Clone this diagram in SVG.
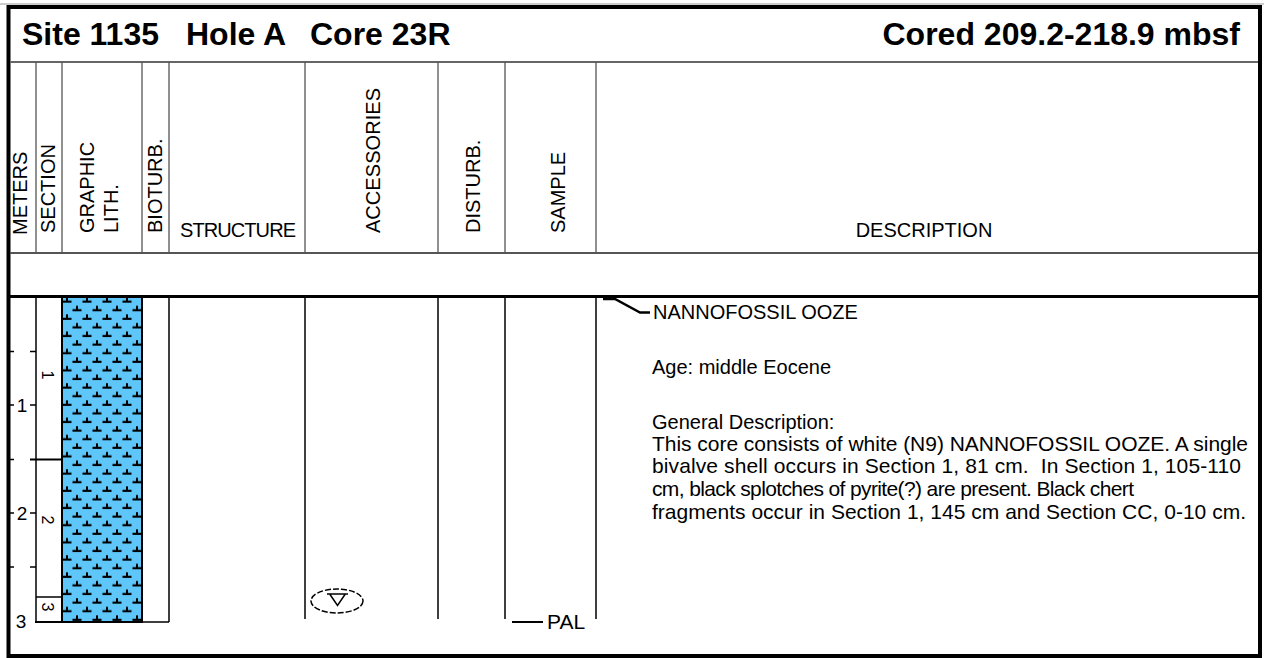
<svg xmlns="http://www.w3.org/2000/svg" width="1264" height="658" viewBox="0 0 1264 658">
<defs>
<style>
text{font-family:"Liberation Sans",Arial,sans-serif;fill:#000}
.title{font-size:32px;font-weight:bold}
.hdr{font-size:20px}
.desc{font-size:21px}
.desc2{font-size:20px}
.meter{font-size:19px}
.sec{font-size:16px}
.hline{stroke:#555;stroke-width:1.3;fill:none}
.bline{stroke:#000;stroke-width:1.5;fill:none}
.tick{stroke:#000;stroke-width:1.5}
</style>
<pattern id="nanno" x="62" y="296" width="20" height="17.2" patternUnits="userSpaceOnUse">
<rect width="20" height="17.2" fill="#5EC6F8"/>
<path d="M0.5,5.6H9.5M5,1.2V5.6M10.5,14.2H19.5M15,9.8V14.2" stroke="#000" stroke-width="2" fill="none"/>
</pattern>
</defs>
<rect width="1264" height="658" fill="#fff"/>
<line x1="0" y1="4" x2="1264" y2="4" stroke="#999" stroke-width="1"/>
<rect id="frame" x="8.5" y="7" width="1251.5" height="649" fill="none" stroke="#000" stroke-width="4"/>

<g id="title">
<text class="title" x="22" y="45">Site 1135</text>
<text class="title" x="186" y="45">Hole A</text>
<text class="title" x="310" y="45">Core 23R</text>
<text class="title" x="1240" y="45" text-anchor="end">Cored 209.2-218.9 mbsf</text>
</g>

<g id="grid">
<line x1="10" y1="62" x2="1258" y2="62" stroke="#666" stroke-width="2"/>
<line x1="10" y1="253" x2="1258" y2="253" stroke="#555" stroke-width="2.2"/>
<line x1="10" y1="296.5" x2="1258" y2="296.5" stroke="#000" stroke-width="3"/>
<path class="hline" d="M36,62V253M62,62V253M142,62V253M169,62V253M305,62V253M438,62V253M505,62V253M596,62V253"/>
</g>

<g id="headers">
<text class="hdr" transform="translate(27,235) rotate(-90)">METERS</text>
<text class="hdr" transform="translate(55,233) rotate(-90)">SECTION</text>
<text class="hdr" transform="translate(94,233) rotate(-90)">GRAPHIC</text>
<text class="hdr" transform="translate(118,233) rotate(-90)">LITH.</text>
<text class="hdr" transform="translate(162,233) rotate(-90)">BIOTURB.</text>
<text class="hdr" x="180" y="237" textLength="116">STRUCTURE</text>
<text class="hdr" transform="translate(380,233) rotate(-90)" textLength="145">ACCESSORIES</text>
<text class="hdr" transform="translate(480,233) rotate(-90)">DISTURB.</text>
<text class="hdr" transform="translate(565,233) rotate(-90)">SAMPLE</text>
<text class="hdr" x="924" y="237" text-anchor="middle">DESCRIPTION</text>
</g>

<g id="meters">
<path class="tick" d="M10,351.5H14M30,351.5H36M10,405H14M30,405H36M10,513H14M30,513H36M10,567H14M30,567H36M10,459.5H14"/>
<text class="meter" x="22" y="412" text-anchor="middle">1</text>
<text class="meter" x="22" y="520" text-anchor="middle">2</text>
<text class="meter" x="21" y="628" text-anchor="middle">3</text>
</g>

<g id="section">
<line x1="36" y1="297" x2="36" y2="622" class="bline"/>
<line x1="30" y1="459.5" x2="62" y2="459.5" stroke="#000" stroke-width="2"/>
<line x1="36" y1="597" x2="62" y2="597" stroke="#000" stroke-width="1.5"/>
<line x1="35" y1="622" x2="63" y2="622" stroke="#000" stroke-width="2"/>
<text class="sec" transform="translate(42,375) rotate(90)" text-anchor="middle">1</text>
<text class="sec" transform="translate(42,520) rotate(90)" text-anchor="middle">2</text>
<text class="sec" transform="translate(42,607) rotate(90)" text-anchor="middle">3</text>
</g>

<g id="lithology">
<rect x="62" y="297" width="80" height="325" fill="url(#nanno)" stroke="#000" stroke-width="2"/>
</g>

<g id="bioturb">
<path class="bline" d="M169,297V622M142,622H169"/>
</g>

<g id="columns">
<path class="bline" d="M305,297V619M438,297V619M505,297V619M596,297V619"/>
</g>

<g id="accessory">
<ellipse cx="337" cy="601" rx="26" ry="12" fill="none" stroke="#000" stroke-width="1.5" stroke-dasharray="6,2"/>
<path d="M327,594H348M330,594.5L337.5,605.5L345,594.5" fill="none" stroke="#000" stroke-width="1.5"/>
</g>

<g id="sample">
<line x1="512" y1="622" x2="543" y2="622" stroke="#000" stroke-width="2"/>
<text class="desc" x="547" y="629">PAL</text>
</g>

<g id="connectors">
<path d="M603,299H615L640,312.5H650" fill="none" stroke="#000" stroke-width="2.5"/>
</g>

<g id="description">
<text class="desc2" x="653" y="319">NANNOFOSSIL OOZE</text>
<text class="desc2" x="652" y="374">Age: middle Eocene</text>
<text class="desc2" x="652" y="429">General Description:</text>
<text class="desc" x="652" y="451" textLength="596">This core consists of white (N9) NANNOFOSSIL OOZE. A single</text>
<text class="desc" x="652" y="473" textLength="589" xml:space="preserve">bivalve shell occurs in Section 1, 81 cm.  In Section 1, 105-110</text>
<text class="desc" x="652" y="496" textLength="482">cm, black splotches of pyrite(?) are present. Black chert</text>
<text class="desc" x="652" y="519" textLength="594">fragments occur in Section 1, 145 cm and Section CC, 0-10 cm.</text>
</g>
</svg>
